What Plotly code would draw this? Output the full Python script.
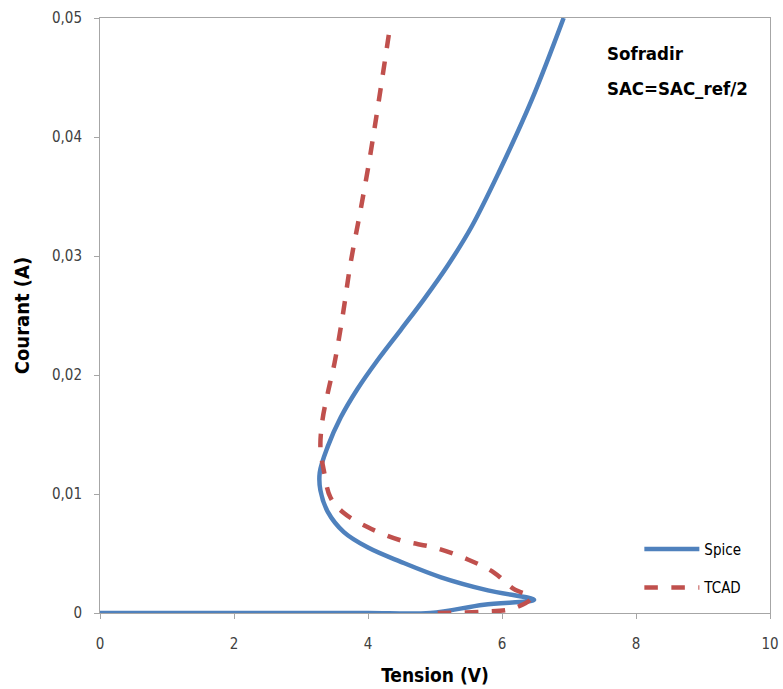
import plotly.graph_objects as go

spice_v = [0, 1.0, 2.0, 3.0, 4.0, 4.93, 5.73, 6.48, 5.79, 5.09, 4.49, 4.0, 3.64, 3.40, 3.29, 3.28, 3.40, 3.59, 3.84,
           4.15, 4.49, 4.84, 5.19, 5.55, 5.95, 6.45, 6.92]
spice_i = [0, 0, 0, 0, 0, 0, 0.0007, 0.0011, 0.0019, 0.0030, 0.0043, 0.0055, 0.0068, 0.0085, 0.0103, 0.0118, 0.0140,
           0.0164, 0.0188, 0.0213, 0.0238, 0.0264, 0.0292, 0.0325, 0.0370, 0.0432, 0.0500]

tcad_v = [5.04, 5.7, 6.18, 6.44, 6.18, 5.88, 5.49, 4.99, 4.49, 4.0, 3.64, 3.44, 3.34, 3.29, 3.32, 3.40, 3.50, 3.62,
          3.74, 3.89, 4.04, 4.34]
tcad_i = [0, 0.0001, 0.0004, 0.0013, 0.0020, 0.0034, 0.0045, 0.0055, 0.0061, 0.0072, 0.0084, 0.0097, 0.0120, 0.0139,
          0.0162, 0.0185, 0.0210, 0.0249, 0.0294, 0.0339, 0.0387, 0.0497]

x_ticks = [0, 2, 4, 6, 8, 10]
x_labels = ["0", "2", "4", "6", "8", "10"]
y_ticks = [0, 0.01, 0.02, 0.03, 0.04, 0.05]
y_labels = ["0", "0,01", "0,02", "0,03", "0,04", "0,05"]

FONT = "DejaVu Sans Condensed, Liberation Sans Narrow, sans-serif"

fig = go.Figure()
fig.add_trace(go.Scatter(x=spice_v, y=spice_i, mode="lines", name="Spice", legendgroup="a",
                         line=dict(color="#4F81BD", width=4.5, shape="spline", smoothing=1.0)))
fig.add_trace(go.Scatter(x=tcad_v, y=tcad_i, mode="lines", name="TCAD", legendgroup="b",
                         line=dict(color="#C0504D", width=4.5, dash="dash", shape="spline", smoothing=1.0)))

axis_common = dict(showgrid=False, zeroline=False, showline=True, linecolor="#a6a6a6", linewidth=1,
                   mirror=True, ticks="outside", ticklen=5, tickcolor="#a6a6a6", automargin=False,
                   tickfont=dict(family=FONT, size=15, color="#404040"))

fig.update_xaxes(range=[0, 10], tickvals=x_ticks, ticktext=x_labels, ticklabelstandoff=12,
                 title=dict(text="<b>Tension (V)</b>", font=dict(family=FONT, size=19, color="#000"), standoff=16),
                 **axis_common)
fig.update_yaxes(range=[0, 0.05], tickvals=y_ticks, ticktext=y_labels, ticklabelstandoff=9,
                 title=dict(text="<b>Courant (A)</b>", font=dict(family=FONT, size=20, color="#000"), standoff=16),
                 **axis_common)

fig.add_annotation(x=0.753, y=0.941, xref="paper", yref="paper", xanchor="left", yanchor="middle",
                   text="<b>Sofradir</b>", showarrow=False, align="left",
                   font=dict(family=FONT, size=18.5, color="#000"))
fig.add_annotation(x=0.753, y=0.882, xref="paper", yref="paper", xanchor="left", yanchor="middle",
                   text="<b>SAC=SAC_ref/2</b>", showarrow=False, align="left",
                   font=dict(family=FONT, size=18.5, color="#000"))

fig.update_layout(width=783, height=689, margin=dict(l=100, r=13, t=18, b=76),
                  plot_bgcolor="white", paper_bgcolor="white",
                  legend=dict(x=0.805, y=0.135, xanchor="left", yanchor="top", bgcolor="rgba(0,0,0,0)",
                              font=dict(family=FONT, size=15, color="#000"), tracegroupgap=16, itemwidth=55))

fig.write_html("out.html", config={"displayModeBar": False},
               post_script="document.body.style.margin='0';document.body.style.overflow='hidden';")
